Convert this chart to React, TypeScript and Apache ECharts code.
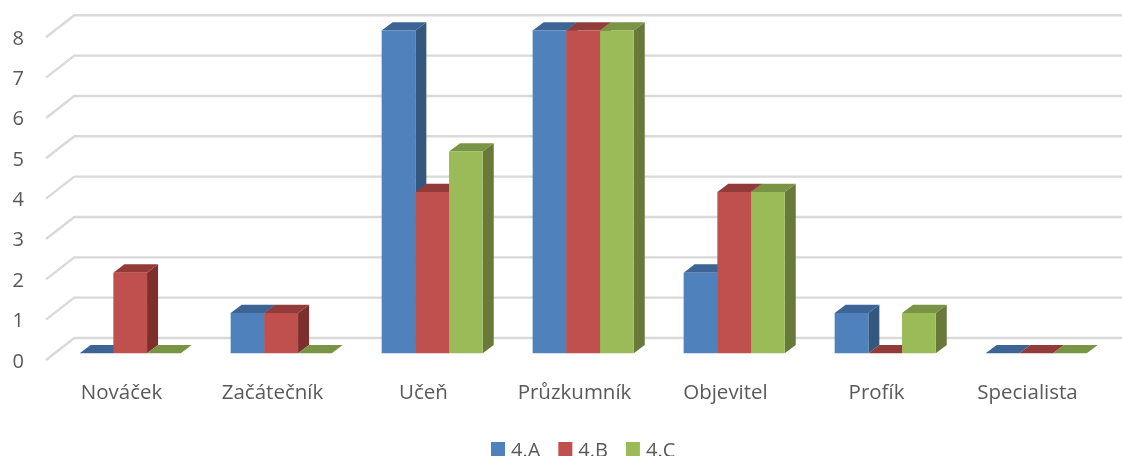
import React, { useEffect, useRef } from "react";
import * as echarts from "echarts";

const categories = ["Nováček", "Začátečník", "Učeň", "Průzkumník", "Objevitel", "Profík", "Specialista"];
const seriesNames = ["4.A", "4.B", "4.C"];
const valuesA = [0, 1, 8, 8, 2, 1, 0];
const valuesB = [2, 1, 4, 8, 4, 0, 0];
const valuesC = [0, 0, 5, 8, 4, 1, 0];
const yTicks = [0, 1, 2, 3, 4, 5, 6, 7, 8];

const FRONT = ["#4f81bd", "#c0504d", "#9bbb59"];
const TOP = ["#3c6494", "#933b39", "#7a9445"];
const SIDE = ["#345780", "#7d2f2d", "#68793a"];
const FONT = "'Open Sans', sans-serif";
const TEXT = "#595959";

const BAR_RATIO = 33.7 / 151;
const FLOOR = { dx: 28.3, dy: 22 };
const BAR_FRONT = { dx: 8.7, dy: 6.7 };
const BAR_DEPTH = { dx: 11, dy: 8.3 };

function barRenderer(col: number) {
  return (_params: any, api: any) => {
    const cat = api.value(0);
    const val = api.value(1);
    const [cx, y1] = api.coord([cat, val]);
    const [, y0] = api.coord([cat, 0]);
    const w = api.size([1, 0])[0] * BAR_RATIO;
    const x0 = cx + BAR_FRONT.dx - 1.5 * w + col * w;
    const x1 = x0 + w;
    const top = y1 - BAR_FRONT.dy;
    const bot = y0 - BAR_FRONT.dy;
    const d = BAR_DEPTH;
    const children: any[] = [];
    if (val > 0) {
      children.push({
        type: "polygon",
        shape: { points: [[x1, top], [x1 + d.dx, top - d.dy], [x1 + d.dx, bot - d.dy], [x1, bot]] },
        style: { fill: SIDE[col] },
      });
    }
    children.push({
      type: "polygon",
      shape: { points: [[x0, top], [x0 + d.dx, top - d.dy], [x1 + d.dx, top - d.dy], [x1, top]] },
      style: { fill: TOP[col] },
    });
    if (val > 0) {
      children.push({
        type: "rect",
        shape: { x: x0, y: top, width: w, height: bot - top },
        style: { fill: FRONT[col] },
      });
    }
    return { type: "group", children };
  };
}

function gridRenderer(params: any, api: any) {
  const sys = params.coordSys;
  const y = api.coord([0, api.value(0)])[1];
  return {
    type: "polyline",
    shape: {
      points: [
        [sys.x, y],
        [sys.x + FLOOR.dx, y - FLOOR.dy],
        [sys.x + sys.width + FLOOR.dx, y - FLOOR.dy],
      ],
    },
    style: { fill: "none", stroke: "#d9d9d9", lineWidth: 2.4 },
  };
}

export default function App() {
  const ref = useRef<HTMLDivElement>(null);
  useEffect(() => {
    const chart = echarts.init(ref.current!, undefined, { renderer: "svg" });
    const columns = [valuesA, valuesB, valuesC];
    chart.setOption({
      animation: false,
      textStyle: { fontFamily: FONT },
      grid: { left: 46, top: 37.3, width: 1057, height: 322.7 },
      legend: {
        data: seriesNames,
        left: 491,
        top: 439,
        padding: 0,
        itemWidth: 14,
        itemHeight: 14,
        itemGap: 18,
        icon: "rect",
        textStyle: { color: TEXT, fontSize: 20, lineHeight: 20, fontFamily: FONT, padding: [0, 0, 0, 1] },
      },
      xAxis: {
        type: "category",
        data: categories,
        axisLine: { show: false },
        axisTick: { show: false },
        splitLine: { show: false },
        axisLabel: { color: TEXT, fontSize: 20.5, fontFamily: FONT, margin: 20, interval: 0 },
      },
      yAxis: {
        type: "value",
        min: 0,
        max: 8,
        interval: 1,
        axisLine: { show: false },
        axisTick: { show: false },
        splitLine: { show: false },
        axisLabel: { color: TEXT, fontSize: 20, fontFamily: FONT, margin: 22 },
      },
      series: [
        {
          type: "custom",
          name: "grid",
          silent: true,
          clip: false,
          data: yTicks.map((v) => [v]),
          encode: { y: 0 },
          renderItem: gridRenderer,
          z: 1,
        },
        ...columns.map((vals, col) => ({
          type: "custom",
          name: seriesNames[col],
          clip: false,
          itemStyle: { color: FRONT[col] },
          data: vals.map((v, i) => [i, v]),
          encode: { x: 0, y: 1 },
          renderItem: barRenderer(col),
          z: 2 + col,
        })),
      ],
    });
    return () => chart.dispose();
  }, []);
  return <div ref={ref} style={{ position: "fixed", left: 0, top: 0, width: 1122, height: 456 }} />;
}
